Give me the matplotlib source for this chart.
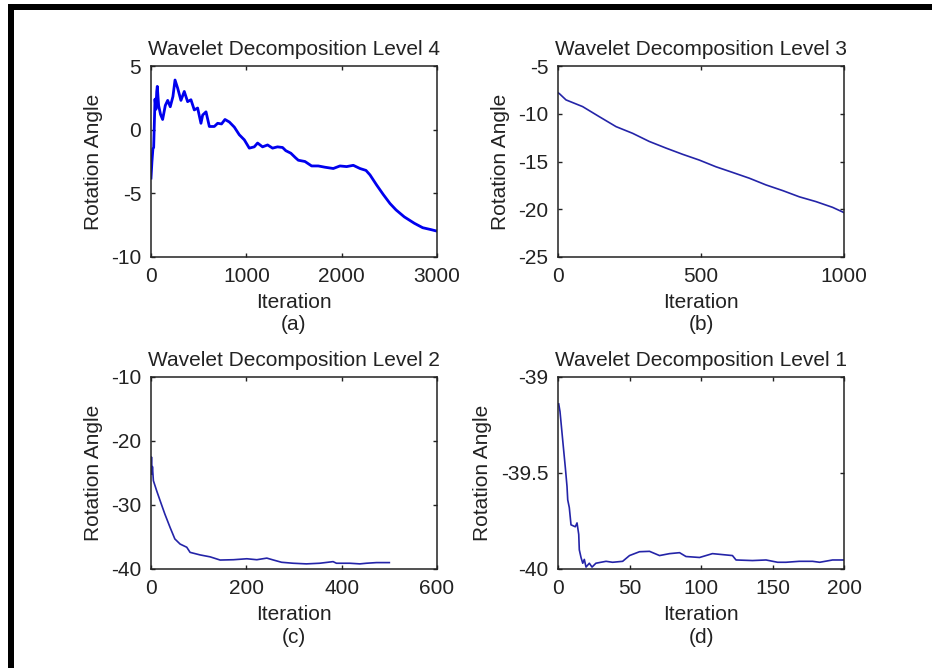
import matplotlib.pyplot as plt
from matplotlib.patches import Rectangle

plt.rcParams['font.family'] = ['Liberation Sans', 'DejaVu Sans']
plt.rcParams['axes.unicode_minus'] = False

# (a) level 4
it4 = [0, 10, 20, 28, 35, 42, 52, 60, 66, 80, 100, 122, 150, 175, 202, 230, 252, 280, 314, 349,
       384, 419, 454, 489, 524, 542, 577, 612, 664, 699, 740, 776, 822, 874, 926, 979, 1031, 1083,
       1118, 1170, 1223, 1275, 1327, 1380, 1414, 1467, 1515, 1545, 1615, 1685, 1755, 1825, 1912,
       1982, 2052, 2122, 2192, 2255, 2297, 2367, 2437, 2507, 2570, 2657, 2762, 2850, 2937, 2990]
ang4 = [-3.8, -2.5, -1.5, -1.4, 0.5, 2.4, 1.6, 3.0, 3.4, 1.9, 1.2, 0.8, 1.9, 2.3, 1.8, 2.6, 3.9, 3.25,
        2.3, 3.0, 2.2, 2.35, 1.55, 1.7, 0.5, 1.15, 1.4, 0.25, 0.25, 0.5, 0.45, 0.8, 0.6, 0.2, -0.4,
        -0.8, -1.45, -1.35, -1.05, -1.35, -1.2, -1.45, -1.35, -1.4, -1.65, -1.85, -2.2, -2.4, -2.5,
        -2.85, -2.85, -2.95, -3.05, -2.85, -2.9, -2.8, -3.05, -3.2, -3.55, -4.35, -5.1, -5.8, -6.3,
        -6.85, -7.35, -7.7, -7.85, -7.95]

# (b) level 3
it3 = [0, 5, 28, 86, 144, 203, 261, 319, 378, 436, 494, 552, 611, 669, 727, 786, 844, 902, 960, 1000]
ang3 = [-7.8, -7.9, -8.55, -9.25, -10.3, -11.35, -12.05, -12.9, -13.6, -14.25, -14.85, -15.55,
        -16.15, -16.75, -17.45, -18.05, -18.7, -19.2, -19.8, -20.35]

# (c) level 2
it2 = [0, 1, 2, 3, 5, 12, 19, 29, 40, 50, 61, 75, 82, 103, 124, 145, 173, 201, 222, 243, 257,
       274, 298, 326, 354, 382, 389, 417, 438, 452, 473, 500]
ang2 = [-25.0, -22.5, -25.2, -24.0, -26.2, -27.8, -29.3, -31.4, -33.5, -35.3, -36.1, -36.6, -37.4,
        -37.8, -38.1, -38.6, -38.55, -38.4, -38.55, -38.3, -38.6, -38.95, -39.1, -39.2, -39.1,
        -38.85, -39.1, -39.1, -39.2, -39.1, -39.0, -39.0]

# (d) level 1
it1 = [0.5, 1.4, 3.3, 5.1, 6.3, 6.8, 7.9, 9.1, 12.1, 13.3, 14.5, 14.9, 16.1, 17.3, 18.4, 19.6,
       21.9, 23.8, 26.5, 30, 33.6, 38.2, 45.2, 50, 57, 64, 71, 78, 85, 89.5, 99, 108, 122, 124.5,
       136, 145.5, 153.6, 159.4, 168.7, 178, 183, 192, 200]
ang1 = [-39.14, -39.18, -39.33, -39.47, -39.57, -39.64, -39.68, -39.77, -39.78, -39.76, -39.82,
        -39.9, -39.94, -39.97, -39.95, -39.99, -39.97, -39.99, -39.97, -39.965, -39.96, -39.965,
        -39.96, -39.93, -39.91, -39.908, -39.93, -39.92, -39.915, -39.935, -39.94, -39.92, -39.93,
        -39.953, -39.956, -39.953, -39.965, -39.965, -39.96, -39.96, -39.965, -39.953, -39.953]

panels = [
    (it4, ang4, 'Wavelet Decomposition Level 4', '(a)', (0, 3000), [0, 1000, 2000, 3000],
     (-10, 5), [-10, -5, 0, 5], ['-10', '-5', '0', '5'], '#0000ee', 2.0),
    (it3, ang3, 'Wavelet Decomposition Level 3', '(b)', (0, 1000), [0, 500, 1000],
     (-25, -5), [-25, -20, -15, -10, -5], ['-25', '-20', '-15', '-10', '-5'], '#2424a8', 1.2),
    (it2, ang2, 'Wavelet Decomposition Level 2', '(c)', (0, 600), [0, 200, 400, 600],
     (-40, -10), [-40, -30, -20, -10], ['-40', '-30', '-20', '-10'], '#2424a8', 1.2),
    (it1, ang1, 'Wavelet Decomposition Level 1', '(d)', (0, 200), [0, 50, 100, 150, 200],
     (-40, -39), [-40, -39.5, -39], ['-40', '-39.5', '-39'], '#2424a8', 1.2),
]

W, H = 932, 668
fig = plt.figure(figsize=(W / 100, H / 100), dpi=100)
boxes = [(151, 66, 437, 257), (558, 66, 844, 257), (151, 377, 437, 569), (558, 377, 844, 569)]

for (x, y, title, tag, xl, xt, yl, yt, ytl, col, lw), (x0, y0, x1, y1) in zip(panels, boxes):
    ax = fig.add_axes([x0 / W, 1 - y1 / H, (x1 - x0) / W, (y1 - y0) / H])
    ax.plot(x, y, color=col, lw=lw)
    ax.set_xlim(*xl)
    ax.set_ylim(*yl)
    ax.set_xticks(xt)
    ax.set_yticks(yt)
    ax.set_yticklabels(ytl)
    ax.tick_params(direction='in', length=3, width=1, top=True, right=True,
                   labelsize=15, pad=7, colors='#222222')
    for s in ax.spines.values():
        s.set_color('#222222')
        s.set_linewidth(1.1)
    ax.set_title(title, fontsize=15, pad=8, color='#222222')
    ax.set_xlabel('Iteration', fontsize=15, labelpad=5, color='#222222')
    ax.set_ylabel('Rotation Angle', fontsize=15, labelpad=6, color='#222222')
    ax.text(0.5, -0.355, tag, transform=ax.transAxes, ha='center', va='center',
            fontsize=15, color='#222222')

# black frame strips from the scanned page
fig.add_artist(Rectangle((8 / W, 1 - 10 / H), 1 - 8 / W, 6 / H, transform=fig.transFigure,
                         color='black', lw=0))
fig.add_artist(Rectangle((8 / W, 0), 6 / W, 1 - 4 / H, transform=fig.transFigure,
                         color='black', lw=0))

fig.savefig('out.png', dpi=100)
